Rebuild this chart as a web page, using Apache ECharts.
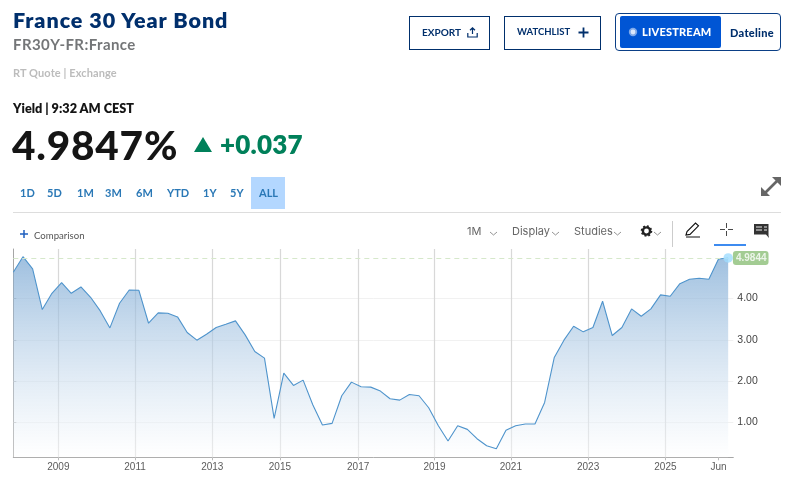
<!DOCTYPE html>
<html><head><meta charset="utf-8">
<style>
html,body{margin:0;padding:0;background:#fff;width:791px;height:479px;overflow:hidden;font-family:Lato,"Open Sans",sans-serif}
#chart{position:absolute;left:0;top:0;width:791px;height:479px}
.t{position:absolute;white-space:nowrap;line-height:1}
.box{position:absolute;box-sizing:border-box}
svg{position:absolute;overflow:visible}
.tab{color:#2a78b6;font-size:11px;font-weight:700;top:187px}
.tool{color:#666;font-size:11px;top:226px;font-family:Inter,sans-serif}
</style></head><body>
<div id="chart"></div>
<div class="t" style="left:13px;top:7px;font:800 21.5px Lato;letter-spacing:.95px;color:#002f6c">France 30 Year Bond</div>
<div class="t" style="left:13px;top:35px;font:700 15px Lato;letter-spacing:.42px;color:#747678">FR30Y-FR:France</div>
<div class="t" style="left:13px;top:66px;font:700 11px Lato;color:#bcbcbc;letter-spacing:.1px">RT Quote | Exchange</div>
<div class="t" style="left:13px;top:100px;font:800 12.7px Lato;color:#151515">Yield | 9:32 AM CEST</div>
<div class="t" style="left:12px;top:120px;font:900 40.5px Lato;color:#151515;letter-spacing:.8px">4.9847%</div>
<svg style="left:0;top:0" width="1" height="1"><polygon points="194,152 212,152 203,137" fill="#00805a"/></svg>
<div class="t" style="left:220px;top:128px;font:800 26px Lato;color:#00805a;letter-spacing:.2px">+0.037</div>
<div class="box" style="left:251px;top:177px;width:34px;height:32px;background:#b3d7ff"></div>
<div class="t tab" style="left:20px">1D</div><div class="t tab" style="left:47px">5D</div><div class="t tab" style="left:77px">1M</div>
<div class="t tab" style="left:105px">3M</div><div class="t tab" style="left:136px">6M</div><div class="t tab" style="left:167px">YTD</div>
<div class="t tab" style="left:203px">1Y</div><div class="t tab" style="left:230px">5Y</div><div class="t tab" style="left:259px">ALL</div>
<div class="box" style="left:13px;top:212px;width:768px;height:1px;background:#ddd"></div>

<div class="box" style="left:409px;top:16px;width:81px;height:34px;border:1.3px solid #002f6c"></div>
<div class="t" style="left:422px;top:26px;font:700 10px Lato;color:#002f6c">EXPORT</div>
<svg style="left:467px;top:27px" width="11" height="11"><path d="M5.5 7V1M3 3.2 5.5.8 8 3.2M.8 6v4h9.4V6" fill="none" stroke="#002f6c" stroke-width="1.2"/></svg>
<div class="box" style="left:504px;top:16px;width:97px;height:34px;border:1.3px solid #002f6c"></div>
<div class="t" style="left:517px;top:26px;font:700 9.5px Lato;color:#002f6c">WATCHLIST</div>
<svg style="left:578px;top:27px" width="11" height="11"><path d="M5.5 .5v10M.5 5.5h10" stroke="#002f6c" stroke-width="1.8"/></svg>
<div class="box" style="left:615px;top:13px;width:166px;height:38px;border:1.3px solid #0b3f86;border-radius:4px"></div>
<div class="box" style="left:620px;top:16px;width:101px;height:32px;background:#0055d4;border-radius:2px"></div>
<svg style="left:628px;top:27px" width="10" height="10"><circle cx="5" cy="5" r="4.2" fill="#7fa9ea"/><circle cx="5" cy="5" r="2.4" fill="#dbe7fb"/></svg>
<div class="t" style="left:642px;top:25px;font:900 11px Lato;color:#fff;letter-spacing:.2px">LIVESTREAM</div>
<div class="t" style="left:730px;top:26px;font:900 11px Lato;color:#002f6c;letter-spacing:.3px">Dateline</div>
<svg style="left:761px;top:177px" width="20" height="20"><path d="M2 18 18 2" stroke="#666" stroke-width="2.6"/><polygon points="11,0 20,0 20,9" fill="#666"/><polygon points="0,10 0,19 9,19" fill="#666"/></svg>

<svg style="left:20px;top:230px" width="8" height="8"><path d="M4 0v8M0 4h8" stroke="#1f5fbf" stroke-width="1.5"/></svg>
<div class="t" style="left:34px;top:229.500px;font:400 9.6px Lato;color:#555">Comparison</div>
<div class="t tool" style="left:467px">1M</div>
<div class="t tool" style="left:512px">Display</div>
<div class="t tool" style="left:574px">Studies</div>
<svg style="left:0;top:0" width="1" height="1"><g fill="none" stroke="#888" stroke-width=".9"><path d="M490 232l3.500 3 3.500-3M552 232l3.500 3 3.500-3M614 232l3.500 3 3.500-3M654 232l3.500 3 3.500-3"/></g></svg>
<svg style="left:641px;top:225px" width="11" height="12"><circle cx="5.500" cy="6" r="3.600" fill="none" stroke="#222" stroke-width="2.400"/><circle cx="5.500" cy="6" r="5" fill="none" stroke="#222" stroke-width="1.600" stroke-dasharray="1.900 2"/></svg>
<div class="box" style="left:672px;top:221px;width:1px;height:26px;background:#ccc"></div>
<svg style="left:685px;top:222px" width="16" height="16"><path d="M1 13 2 9.500 10.500 1l3 2.800L5 12.400zM1 15H15" fill="none" stroke="#111" stroke-width="1.100"/></svg>
<svg style="left:720px;top:223px" width="13" height="13"><path d="M6.500 0v5M6.500 8v5M0 6.500h5M8 6.500h5" stroke="#333" stroke-width=".9"/></svg>
<div class="box" style="left:714px;top:244px;width:32px;height:2px;background:#3d8bf0"></div>
<svg style="left:754px;top:224px" width="15" height="14"><path d="M0 0H14.500V11.500L15 14 12 10.500H0z" fill="#333"/><path d="M2 3H8M2 6H8M10 3H13M10 6H13" stroke="#fff" stroke-width=".9"/></svg>

<script src="https://cdn.jsdelivr.net/npm/echarts@6/dist/echarts.min.js"></script>
<script>
const yields = [4.636,5.014,4.717,3.734,4.129,4.386,4.129,4.282,4.032,3.702,3.291,3.887,4.209,4.201,3.404,3.654,3.646,3.557,3.179,2.994,3.138,3.300,3.380,3.461,3.122,2.720,2.559,
1.101,2.196,1.899,2.027,1.432,0.940,0.981,1.649,1.979,1.866,1.858,1.762,1.576,1.544,1.681,1.649,1.359,0.924,0.554,0.924,0.836,0.610,0.441,0.369,0.812,0.924,0.965,
0.965,1.488,2.575,2.994,3.332,3.195,3.300,3.936,3.106,3.300,3.750,3.573,3.750,4.089,4.056,4.362,4.467,4.491,4.467,4.958,4.984];
const lastValue = 4.9844;
const timeLabels = ['2009','2011','2013','2015','2017','2019','2021','2023','2025','Jun'];
const timeTicks = [4.66,12.6,20.6,27.6,35.7,43.6,51.5,59.5,67.5,73];
const yTicks = [1,2,3,4];
const points = yields.map((v,i)=>[i,v]);
const lastIdx = yields.length-1;
const chart = echarts.init(document.getElementById('chart'));
chart.setOption({
  animation:false,
  grid:{left:13.3,right:57.7,top:249,bottom:21.7},
  xAxis:{type:'value',min:0,max:74.53,
    axisLine:{onZero:false,lineStyle:{color:'#a6a6a6',width:1}},
    axisTick:{customValues:timeTicks,length:3,lineStyle:{color:'#bbb'}},
    splitLine:{show:false},
    axisLabel:{customValues:timeTicks,margin:5,fontSize:10,color:'#5c5c5c',fontFamily:'Liberation Sans',
      formatter:v=>{const i=timeTicks.indexOf(v);return i<0?'':timeLabels[i];}}},
  yAxis:{type:'value',position:'right',min:0.16,max:5.2,
    axisLine:{show:true,lineStyle:{color:'#a6a6a6',width:1}},
    axisTick:{show:true,customValues:yTicks,length:3,lineStyle:{color:'#bbb'}},
    splitLine:{show:true,lineStyle:{color:'#f1f1f1',width:1}},
    axisLabel:{customValues:yTicks,margin:4,fontSize:10.500,color:'#444',fontFamily:'Liberation Sans',verticalAlign:'middle',padding:[4,0,0,0],formatter:v=>v.toFixed(2)}},
  series:[
    {type:'line',z:1,silent:true,symbol:'none',data:[],
     markLine:{z:1,silent:true,symbol:'none',label:{show:false},lineStyle:{color:'#d8d8d8',type:'solid',width:1.200},
       data:timeTicks.slice(0,-1).map(x=>({xAxis:x}))}},
    {type:'line',z:3,symbol:'none',data:points,lineStyle:{color:'#4f94cc',width:1.100},
     areaStyle:{opacity:1,color:{type:'linear',x:0,y:0,x2:0,y2:1,colorStops:[
       {offset:0,color:'rgba(118,165,210,0.7)'},{offset:1,color:'rgba(255,255,255,0.45)'}]}},
     markLine:{silent:true,symbol:'none',label:{show:false},lineStyle:{color:'#d6e8cb',type:[5,4],width:1.200},
       data:[[{coord:[0,lastValue]},{coord:[lastIdx,lastValue]}]]}},
    {type:'scatter',z:6,symbol:'circle',symbolSize:9.500,itemStyle:{color:'#9fdcff'},clip:false,
     data:[[lastIdx,lastValue]],
     label:{show:true,position:'right',distance:0,formatter:p=>p.value[1].toFixed(4),
       backgroundColor:'#8cbf78',borderRadius:3,padding:[2,2,2,3],color:'#fff',fontWeight:'bold',fontSize:10,fontFamily:'Liberation Sans'}}
  ]
});
</script>
</body></html>
